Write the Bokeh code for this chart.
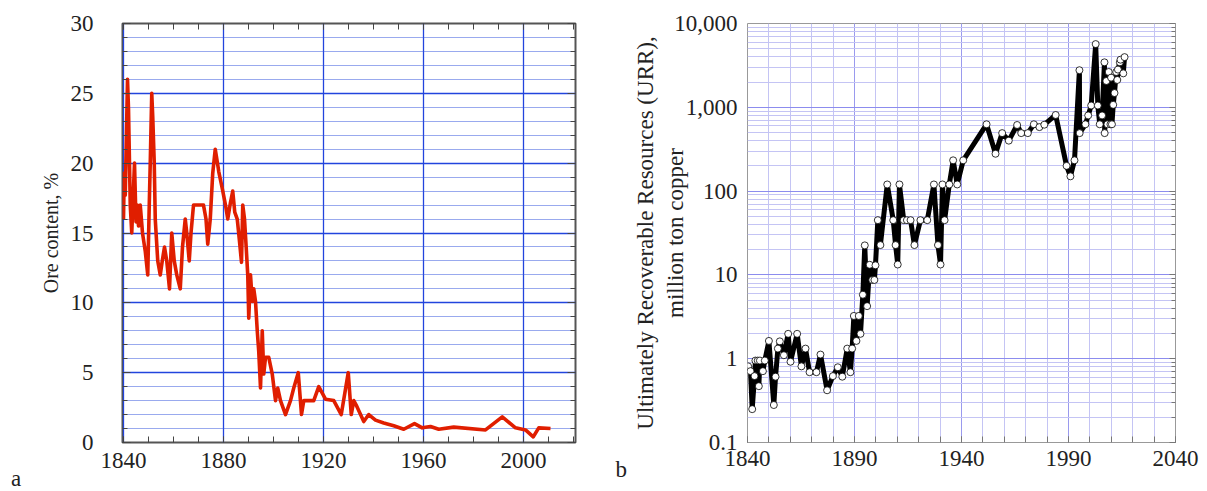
from bokeh.plotting import figure
from bokeh.layouts import row
from bokeh.models import (SingleIntervalTicker, FixedTicker, LinearAxis, Label,
                          NumeralTickFormatter, CustomJSTickFormatter)
from bokeh.embed import file_html
from bokeh.resources import INLINE

# ---------------- data ----------------
ore_year = [1840.0, 1840.3, 1840.7, 1841.6, 1842.0, 1842.7, 1843.3, 1844.4, 1845.0, 1845.5,
            1846.0, 1846.7, 1847.6, 1848.7, 1849.7, 1850.3, 1850.7, 1851.3, 1851.7, 1852.3,
            1852.7, 1853.7, 1854.7, 1855.5, 1856.4, 1857.3, 1858.4, 1859.3, 1860.3, 1861.3,
            1862.7, 1863.6, 1864.7, 1865.3, 1866.3, 1867.0, 1868.0, 1869.3, 1872.0, 1873.0,
            1873.7, 1874.7, 1875.7, 1876.7, 1877.6, 1878.1, 1879.5, 1880.8, 1881.7, 1882.8,
            1883.7, 1884.5, 1885.5, 1886.4, 1887.2, 1887.7, 1888.4, 1889.1, 1889.7, 1890.1,
            1890.8, 1891.5, 1892.1, 1892.8, 1893.5, 1894.1, 1894.8, 1895.5, 1896.1, 1896.8,
            1898.1, 1899.5, 1900.8, 1901.7, 1902.8, 1904.8, 1906.8, 1908.1, 1909.9, 1911.2,
            1912.1, 1916.1, 1918.1, 1920.8, 1924.1, 1927.1, 1929.9, 1931.1, 1932.1, 1933.3,
            1936.1, 1938.1, 1940.8, 1944.1, 1948.1, 1952.1, 1956.4, 1959.5, 1962.8, 1966.1,
            1972.1, 1984.8, 1991.5, 1996.8, 2000.8, 2003.9, 2006.1, 2010.8]
ore_pct = [16.0, 19.3, 17.7, 26.0, 23.9, 17.0, 15.0, 20.0, 15.8, 17.0,
           15.5, 17.0, 15.0, 13.7, 12.0, 17.0, 20.0, 25.0, 23.3, 20.0,
           16.0, 13.0, 12.0, 13.0, 14.0, 13.0, 11.0, 15.0, 13.0, 12.0,
           11.0, 14.0, 16.0, 15.0, 13.0, 15.0, 17.0, 17.0, 17.0, 16.0,
           14.2, 16.0, 19.3, 21.0, 20.0, 19.4, 18.2, 17.0, 16.0, 17.2,
           18.0, 16.5, 16.0, 14.4, 12.9, 17.0, 16.0, 13.9, 12.0, 8.9,
           12.0, 10.1, 11.0, 10.1, 8.0, 6.5, 3.9, 8.0, 4.9, 6.1,
           6.1, 4.9, 3.0, 3.9, 3.0, 2.0, 3.0, 3.9, 5.0, 2.0,
           3.0, 3.0, 4.0, 3.1, 3.0, 2.0, 5.0, 2.0, 3.0, 2.6,
           1.5, 2.0, 1.6, 1.4, 1.2, 0.95, 1.35, 1.05, 1.15, 0.95,
           1.1, 0.9, 1.83, 1.05, 0.9, 0.4, 1.05, 1.0]

urr_year = [1840.3, 1841.4, 1842.2, 1843.3, 1843.7, 1844.8, 1845.3, 1845.8, 1847.2, 1848.1,
            1850.0, 1852.3, 1853.1, 1854.2, 1855.1, 1857.0, 1859.0, 1860.1, 1863.2, 1865.2,
            1867.1, 1869.0, 1872.2, 1874.1, 1877.2, 1879.9, 1882.2, 1884.3, 1886.6, 1888.1,
            1888.9, 1889.7, 1890.9, 1892.0, 1892.8, 1893.9, 1894.8, 1895.9, 1897.1, 1898.3,
            1899.3, 1899.8, 1900.9, 1902.1, 1905.3, 1908.1, 1909.2, 1910.2, 1911.0, 1913.0,
            1914.5, 1916.2, 1918.0, 1920.8, 1924.0, 1927.1, 1929.0, 1930.2, 1931.1, 1932.1,
            1934.3, 1936.1, 1938.0, 1940.8, 1951.7, 1955.9, 1959.0, 1962.1, 1966.0, 1967.9,
            1971.0, 1973.8, 1976.4, 1978.7, 1984.0, 1989.1, 1990.9, 1992.8, 1995.1, 1995.2,
            1997.9, 1999.2, 2000.6, 2002.7, 2003.7, 2004.6, 2005.7, 2006.8, 2006.9, 2007.7,
            2008.2, 2008.8, 2009.6, 2009.9, 2010.3, 2010.9, 2011.5, 2012.3, 2012.8, 2013.1,
            2014.0, 2014.3, 2015.6, 2016.2]
urr_mt = [0.81, 0.71, 0.25, 0.62, 0.95, 0.95, 0.47, 0.95, 0.71, 0.95,
          1.63, 0.28, 0.61, 1.32, 1.61, 1.10, 1.98, 0.92, 1.98, 0.81,
          1.32, 0.69, 0.69, 1.12, 0.42, 0.62, 0.79, 0.61, 1.32, 0.69,
          1.32, 3.24, 1.63, 3.24, 1.98, 5.8, 22.5, 4.24, 13.2, 8.7,
          8.7, 13.0, 45, 22.7, 120, 45, 22.7, 13.3, 120, 45,
          45, 45, 22.7, 45, 45, 120, 22.7, 13.3, 120, 45,
          120, 233, 120, 233, 627, 279, 492, 400, 615, 492,
          492, 627, 580, 620, 810, 200, 150, 233, 2770, 492,
          627, 800, 1050, 5680, 1050, 627, 800, 3440, 492, 2060,
          627, 2640, 627, 2260, 627, 1070, 1480, 2640, 2120, 2820,
          3440, 3700, 2540, 3970]

ore_label = "Ore content, %"
urr_label = "Ultimately Recoverable Resources (URR),\nmillion ton copper"
urr_xticks = [1840, 1890, 1940, 1990, 2040]
urr_yticks = [0.1, 1, 10, 100, 1000, 10000]
panel_tags = ["a", "b"]

SERIF = "Liberation Serif"

# ---------------- panel a ----------------
p1 = figure(width=600, height=491, x_range=(1839.6, 2020.8), y_range=(0, 30),
            output_backend="svg", toolbar_location=None,
            min_border_left=122, min_border_right=25, min_border_top=21,
            min_border_bottom=49)
p1.outline_line_color = "#555555"
p1.outline_line_width = 2

xt1 = SingleIntervalTicker(interval=40, num_minor_ticks=4)
yt1 = SingleIntervalTicker(interval=5, num_minor_ticks=5)
p1.xaxis.ticker = xt1
p1.yaxis.ticker = yt1

for ax in (p1.xaxis[0], p1.yaxis[0]):
    ax.axis_line_color = None
    ax.major_tick_out = 0
    ax.minor_tick_out = 0
    ax.major_tick_line_color = "#444444"
    ax.minor_tick_line_color = "#444444"
    ax.major_label_text_font = SERIF
    ax.major_label_text_font_size = "23px"
    ax.major_label_text_color = "#222222"
p1.xaxis.major_tick_in = 6
p1.xaxis.minor_tick_in = 6
p1.xaxis.major_label_standoff = 10
p1.yaxis.major_tick_in = 8
p1.yaxis.minor_tick_in = 5
p1.yaxis.major_label_standoff = 29
p1.yaxis.axis_label = ore_label
p1.yaxis.axis_label_text_font = SERIF
p1.yaxis.axis_label_text_font_size = "20px"
p1.yaxis.axis_label_text_font_style = "normal"
p1.yaxis.axis_label_text_color = "#222222"
p1.yaxis.axis_label_standoff = 6

top1 = LinearAxis(ticker=xt1, formatter=CustomJSTickFormatter(code="return ''"),
                  axis_line_color=None, major_tick_in=6, major_tick_out=0,
                  minor_tick_in=6, minor_tick_out=0, major_label_standoff=0,
                  major_tick_line_color="#444444", minor_tick_line_color="#444444")
right1 = LinearAxis(ticker=yt1, formatter=CustomJSTickFormatter(code="return ''"),
                    axis_line_color=None, major_tick_in=8, major_tick_out=0,
                    minor_tick_in=5, minor_tick_out=0, major_label_standoff=0,
                    major_tick_line_color="#444444", minor_tick_line_color="#444444")
p1.add_layout(top1, "above")
p1.add_layout(right1, "right")

p1.xgrid.grid_line_color = "#2244dd"
p1.xgrid.grid_line_width = 1.3
p1.ygrid.grid_line_color = "#2244dd"
p1.ygrid.grid_line_width = 1.3
p1.ygrid.minor_grid_line_color = "#3355dd"
p1.ygrid.minor_grid_line_dash = "1 1"
p1.ygrid.minor_grid_line_width = 1

p1.line(ore_year, ore_pct, line_width=3.6, color="#e01e00", line_join="round")

# panel tag placed in a side panel (side-panel annotations are not clipped to the frame)
p1.add_layout(Label(x=1797, y=-2.6, text=panel_tags[0], text_font=SERIF,
                    text_font_size="23px", text_baseline="middle", text_align="center",
                    text_color="#222222"), "left")

# ---------------- panel b ----------------
p2 = figure(width=607, height=491, x_range=(1840, 2040), y_range=(0.1, 10000),
            y_axis_type="log", output_backend="svg", toolbar_location=None,
            min_border_left=147, min_border_right=32, min_border_top=23,
            min_border_bottom=40)
p2.outline_line_color = "#999999"
p2.outline_line_width = 1

p2.xaxis.ticker = FixedTicker(ticks=urr_xticks, minor_ticks=list(range(1840, 2041, 10)))
yt2 = FixedTicker(ticks=urr_yticks,
                  minor_ticks=[k * 10.0 ** d for d in range(-1, 4) for k in range(2, 10)])
p2.yaxis.ticker = yt2
p2.yaxis.formatter = NumeralTickFormatter(format="0,0.[0]")

for ax in (p2.xaxis[0], p2.yaxis[0]):
    ax.axis_line_color = None
    ax.major_tick_out = 0
    ax.minor_tick_out = 0
    ax.major_tick_in = 0
    ax.minor_tick_in = 0
    ax.major_label_text_font = SERIF
    ax.major_label_text_font_size = "23px"
    ax.major_label_text_color = "#222222"
p2.xaxis.major_tick_in = 6
p2.xaxis.minor_tick_in = 6
p2.xaxis.major_tick_line_color = "#777777"
p2.xaxis.minor_tick_line_color = "#777777"
p2.xaxis.major_label_standoff = 8
p2.yaxis.major_label_standoff = 10
p2.yaxis.axis_label = urr_label
p2.yaxis.axis_label_text_font = SERIF
p2.yaxis.axis_label_text_font_size = "23px"
p2.yaxis.axis_label_text_font_style = "normal"
p2.yaxis.axis_label_text_color = "#222222"
p2.yaxis.axis_label_standoff = -17

right2 = LinearAxis(ticker=yt2, formatter=CustomJSTickFormatter(code="return ''"),
                    axis_line_color=None, major_tick_in=6, major_tick_out=0,
                    minor_tick_in=4, minor_tick_out=0, major_label_standoff=0,
                    major_tick_line_color="#777777", minor_tick_line_color="#777777")
p2.add_layout(right2, "right")

p2.xgrid.grid_line_color = "#9a9aee"
p2.xgrid.minor_grid_line_color = "#c4c4f4"
p2.ygrid.grid_line_color = "#8c8cee"
p2.ygrid.minor_grid_line_color = "#c4c4f4"

p2.line(urr_year, urr_mt, line_width=5, color="black", line_join="round")
p2.scatter(urr_year, urr_mt, size=7, fill_color="white", line_color="black", line_width=0.8)

p2.add_layout(Label(x=1781, y=0.048, text=panel_tags[1], text_font=SERIF,
                    text_font_size="23px", text_baseline="middle", text_align="center",
                    text_color="#222222"), "left")

layout = row(p1, p2)
open("out.html", "w").write(file_html(layout, INLINE))
